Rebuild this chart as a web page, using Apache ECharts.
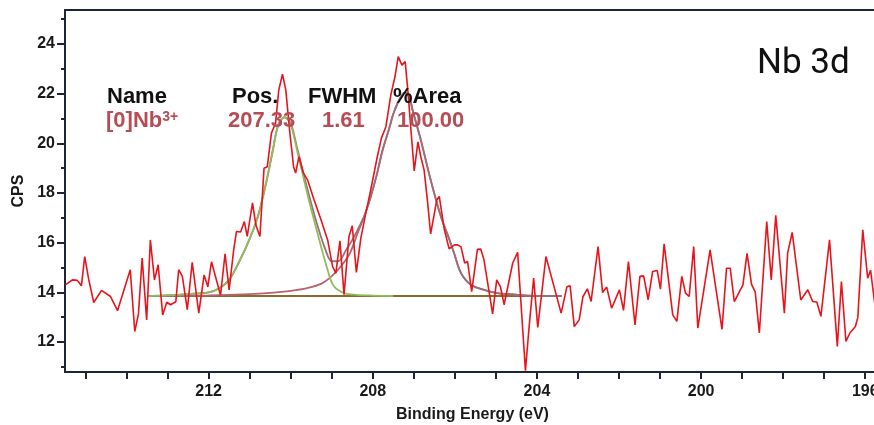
<!DOCTYPE html>
<html>
<head>
<meta charset="utf-8">
<script src="https://cdn.jsdelivr.net/npm/echarts@6/dist/echarts.min.js"></script>
<style>
  html, body { margin: 0; padding: 0; background: #fff; }
  #chart { width: 874px; height: 425px; }
</style>
</head>
<body>
<div id="chart"></div>
<script>
// Nb 3d XPS spectrum: measured counts (binding energy in eV, CPS)
const energy = [
  215.49,215.32,215.20,215.10,215.02,214.92,214.80,214.61,214.39,214.22,
  213.91,213.80,213.71,213.62,213.51,213.42,213.32,213.23,213.12,213.02,
  212.93,212.80,212.73,212.64,212.52,212.40,212.24,212.11,212.02,211.93,
  211.71,211.60,211.50,211.39,211.32,211.22,211.13,211.06,210.93,210.85,
  210.75,210.65,210.57,210.47,210.37,210.29,210.20,210.12,210.02,209.93,
  209.88,209.80,209.69,209.59,209.43,209.27,209.10,208.98,208.90,208.80,
  208.70,208.58,208.50,208.40,208.29,208.17,208.05,207.89,207.79,207.68,
  207.56,207.46,207.38,207.29,207.21,207.14,207.07,206.99,206.90,206.83,
  206.75,206.67,206.59,206.44,206.38,206.26,206.14,206.01,205.93,205.85,
  205.76,205.69,205.59,205.45,205.37,205.29,205.08,204.98,204.89,204.80,
  204.59,204.47,204.28,204.19,204.08,203.98,203.78,203.41,203.27,203.19,
  203.09,202.97,202.88,202.77,202.68,202.51,202.40,202.30,202.18,201.99,
  201.89,201.77,201.61,201.49,201.40,201.29,201.18,201.07,200.99,200.90,
  200.69,200.59,200.47,200.38,200.29,200.18,200.08,199.78,199.49,199.38,
  199.29,199.19,198.98,198.88,198.77,198.68,198.58,198.40,198.29,198.18,
  197.97,197.89,197.78,197.57,197.40,197.28,197.18,197.08,196.87,196.68,
  196.58,196.47,196.37,196.24,196.18,196.06,195.94,195.87,195.76
];
const cps = [
  14.30,14.50,14.48,14.26,15.44,14.50,13.59,14.08,13.83,13.26,
  14.91,12.42,13.13,15.38,12.89,16.11,14.50,15.11,13.09,13.60,
  13.50,13.62,14.91,14.64,13.30,15.21,13.16,14.70,14.22,15.23,
  13.88,15.55,14.10,15.71,16.45,16.43,16.85,16.25,17.60,16.72,
  16.25,19.00,19.06,20.41,20.81,22.15,22.79,22.15,20.41,19.06,
  18.80,19.46,18.80,18.53,17.72,16.96,16.11,15.04,14.77,16.07,
  13.90,16.25,16.68,14.80,16.19,17.19,18.12,19.46,20.21,20.67,
  21.95,22.68,23.49,23.15,23.29,22.02,20.54,18.89,20.06,19.46,
  18.93,17.72,16.35,17.72,17.86,16.56,15.75,15.91,15.91,15.83,
  15.18,15.24,14.03,15.73,15.74,15.31,13.13,14.50,14.23,13.50,
  15.18,15.61,10.84,12.62,14.57,12.59,15.44,13.16,14.22,14.26,
  12.62,12.89,13.82,14.14,13.63,15.84,13.99,14.21,13.36,14.10,
  13.27,15.24,12.69,14.64,14.66,13.70,14.84,14.88,14.13,15.95,
  13.09,12.83,14.64,13.97,13.83,15.84,12.56,15.71,12.51,14.97,
  14.97,13.62,14.30,15.57,14.32,14.01,12.36,16.85,14.50,17.10,
  13.16,15.59,16.41,13.69,14.10,13.63,13.61,13.03,16.11,11.82,
  14.43,12.02,12.37,12.62,12.99,16.52,14.57,14.89,13.43
];

// Fitted components
const bgEnergy = [213.5, 203.4];
const bgCps = [13.85, 13.85];

const d3Energy = [213.5,213.0,212.5,212.0,211.75,211.5,211.25,211.0,210.8,210.6,210.45,210.3,210.15,210.0,209.85,209.6,209.35,209.1,208.95,208.7,208.4,208.0,207.5];
const d3Cps    = [13.85,13.88,13.93,14.0,14.15,14.5,15.25,16.15,17.05,18.4,19.6,20.75,21.05,20.75,19.75,18.0,16.4,14.9,14.25,13.97,13.9,13.87,13.85];

const d5Energy = [213.5,212.0,211.0,210.5,210.0,209.6,209.25,209.0,208.75,208.55,208.37,208.2,208.05,207.9,207.76,207.6,207.48,207.3,207.2,207.1,207.03,206.83,206.59,206.34,206.15,206.02,205.85,205.61,205.29,204.96,204.47,204.0,203.4];
const d5Cps    = [13.85,13.88,13.93,13.98,14.06,14.17,14.35,14.65,15.1,15.6,16.38,17.1,17.85,18.75,19.73,20.6,21.28,21.92,22.04,21.8,21.34,20.14,18.53,17.05,16.2,15.58,14.77,14.3,14.1,13.97,13.9,13.86,13.85];

const envEnergy = [213.5,213.0,212.5,212.0,211.75,211.5,211.25,211.0,210.8,210.6,210.45,210.3,210.15,210.0,209.85,209.6,209.35,209.15,209.0,208.85,208.65,208.45,208.3,208.2,208.05,207.9,207.76,207.6,207.48,207.3,207.2,207.1,207.03,206.83,206.59,206.34,206.15,206.02,205.85,205.61,205.29,204.96,204.47,204.0,203.4];
const envCps    = [13.85,13.88,13.93,14.0,14.15,14.5,15.25,16.15,17.05,18.4,19.6,20.75,21.05,20.8,19.85,18.2,16.7,15.7,15.25,15.25,15.7,16.25,16.75,17.1,17.85,18.75,19.73,20.6,21.28,21.92,22.04,21.8,21.34,20.14,18.53,17.05,16.2,15.58,14.77,14.3,14.1,13.97,13.9,13.86,13.85];

// Axis ticks
const xTicks = [196,197,198,199,200,201,202,203,204,205,206,207,208,209,210,211,212,213,214,215];
const xLabels = [196,200,204,208,212];
const yMajor = [12,14,16,18,20,22,24];
const yMinor = [11,13,15,17,19,21,23,25];

// Peak table
const tableHead = ['Name', 'Pos.', 'FWHM', '%Area'];
const tableRow = ['[0]Nb{s|3+}', '207.33', '1.61', '100.00'];

const pairs = (xs, ys) => xs.map((x, i) => [x, ys[i]]);

const frame = '#1d2636';
const boldFont = '"Liberation Sans", Arial, sans-serif';
const xMin = 195.64, xMax = 215.5, yMin = 10.79, yMax = 25.37;

const chart = echarts.init(document.getElementById('chart'), null, { renderer: 'canvas' });

const tickLabelStyle = { fontFamily: boldFont, fontWeight: 'bold', fontSize: 16, color: '#1a1a1a' };

const headX = [107, 232, 308, 393];
const rowX = [106, 228, 322, 397];

const graphics = [];
tableHead.forEach((t, i) => graphics.push({
  type: 'text', x: headX[i], y: 86, z: 100,
  style: { text: t, font: 'bold 22px ' + boldFont, fill: '#111', verticalAlign: 'top' }
}));
tableRow.forEach((t, i) => graphics.push({
  type: 'text', x: rowX[i], y: 110, z: 100,
  style: {
    text: t, font: 'bold 22px ' + boldFont, fill: '#b84c54', verticalAlign: 'top', lineHeight: 22,
    rich: { s: { fontSize: 14, fontWeight: 'bold', fontFamily: boldFont, fill: '#b84c54', verticalAlign: 'top', lineHeight: 22 } }
  }
}));
graphics.push({
  type: 'text', x: 757, y: 64, z: 100,
  style: { text: 'Nb 3d', font: '35px Roboto, sans-serif', fill: '#111', verticalAlign: 'middle' }
});

chart.setOption({
  animation: false,
  backgroundColor: '#fff',
  grid: {
    left: 65, top: 10, width: 815, bottom: 53, containLabel: false,
    outerBoundsMode: 'none',
    show: true, borderColor: frame, borderWidth: 2
  },
  xAxis: {
    type: 'value', inverse: true, min: xMin, max: xMax,
    axisLine: { show: true, lineStyle: { color: frame, width: 2 } },
    splitLine: { show: false },
    axisTick: { show: true, customValues: xTicks, length: 7, lineStyle: { color: frame, width: 2 } },
    axisLabel: Object.assign({ customValues: xLabels, margin: 12 }, tickLabelStyle),
    name: 'Binding Energy (eV)', nameLocation: 'middle', nameGap: 35,
    nameTextStyle: { fontFamily: boldFont, fontWeight: 'bold', fontSize: 16, color: '#1a1a1a' }
  },
  yAxis: [
    {
      type: 'value', min: yMin, max: yMax, position: 'left',
      axisLine: { show: true, lineStyle: { color: frame, width: 2 } },
      splitLine: { show: false },
      axisTick: { show: true, customValues: yMajor, length: 8, lineStyle: { color: frame, width: 2 } },
      axisLabel: Object.assign({ customValues: yMajor, margin: 10 }, tickLabelStyle),
      name: 'CPS', nameLocation: 'middle', nameGap: 32,
      nameTextStyle: { fontFamily: boldFont, fontWeight: 'bold', fontSize: 16, color: '#1a1a1a' }
    },
    {
      type: 'value', min: yMin, max: yMax, position: 'left', offset: 0,
      axisLine: { show: false },
      splitLine: { show: false },
      axisTick: { show: true, customValues: yMinor, length: 4, lineStyle: { color: frame, width: 2 } },
      axisLabel: { show: false }
    }
  ],
  graphic: graphics,
  series: [
    {
      type: 'line', name: 'Background', data: pairs(bgEnergy, bgCps),
      showSymbol: false, lineStyle: { color: '#8a6a2e', width: 2.2 }, z: 2
    },
    {
      type: 'line', name: 'Nb 3d5/2', data: pairs(d5Energy, d5Cps), smooth: 0.35,
      showSymbol: false, lineStyle: { color: '#b86270', width: 1.8 }, z: 3
    },
    {
      type: 'line', name: 'Envelope', data: pairs(envEnergy, envCps), smooth: 0.35,
      showSymbol: false, lineStyle: { color: '#9a7078', width: 1.8 }, z: 3
    },
    {
      type: 'line', name: 'Nb 3d3/2', data: pairs(d3Energy, d3Cps), smooth: 0.35,
      showSymbol: false, lineStyle: { color: '#8fbc5c', width: 1.8 }, z: 4
    },
    {
      type: 'line', name: 'Nb 3d', data: pairs(energy, cps),
      showSymbol: false, lineStyle: { color: '#e8141c', width: 1.6 }, z: 5
    }
  ]
});
</script>
</body>
</html>
